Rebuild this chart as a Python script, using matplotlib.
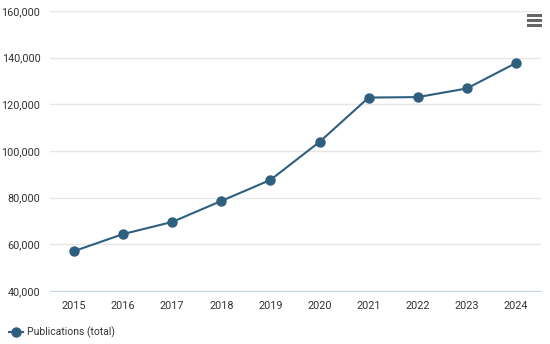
import matplotlib
matplotlib.use("Agg")
import matplotlib.pyplot as plt
from matplotlib.lines import Line2D

years = ["2015", "2016", "2017", "2018", "2019", "2020", "2021", "2022", "2023", "2024"]
publications = [57100, 64400, 69600, 78600, 87600, 103900, 122900, 123100, 126800, 137700]
yticks = [40000, 60000, 80000, 100000, 120000, 140000, 160000]
series_name = "Publications (total)"

color = "#2f5f7f"
plt.rcParams['font.family'] = ['Roboto', 'DejaVu Sans']

fig = plt.figure(figsize=(5.5, 3.44), dpi=100)
ax = fig.add_axes([49.5/550, (344-291)/344, (540.5-49.5)/550, (291-11)/344])

x = list(range(len(years)))
ax.plot(x, publications, color=color, lw=1.5, marker='o', ms=6.5, mfc=color, mec=color, zorder=3)

ax.set_xlim(-0.5, len(years) - 0.5)
ax.set_ylim(40000, 160000)
ax.set_yticks(yticks)
ax.set_yticklabels([f"{v:,}" for v in yticks])
ax.set_xticks(x)
ax.set_xticklabels(years)
ax.grid(axis='y', color='#e6e6e6', lw=1)
ax.set_axisbelow(True)
for s in ['top', 'right', 'left']:
    ax.spines[s].set_visible(False)
ax.spines['bottom'].set_color('#ccd6eb')
ax.tick_params(axis='both', length=0, labelsize=7.8, colors='#333333')
ax.tick_params(axis='y', pad=6.5)
ax.tick_params(axis='x', pad=7)

# legend
handle = Line2D([0], [0], color=color, lw=1.5, marker='o', ms=6.5, mfc=color, mec=color)
fig.legend([handle], [series_name], loc='lower left', bbox_to_anchor=(0.0, -0.01),
           frameon=False, fontsize=7.5, handlelength=1.3, handletextpad=0.4,
           labelcolor='#333333')

# hamburger menu icon
for dy in [0, 5, 10]:
    fig.add_artist(Line2D([528/550, 540/550], [(344-15-dy)/344]*2, color='#666666', lw=2.2))

fig.savefig("out.png", dpi=100, facecolor='white')
